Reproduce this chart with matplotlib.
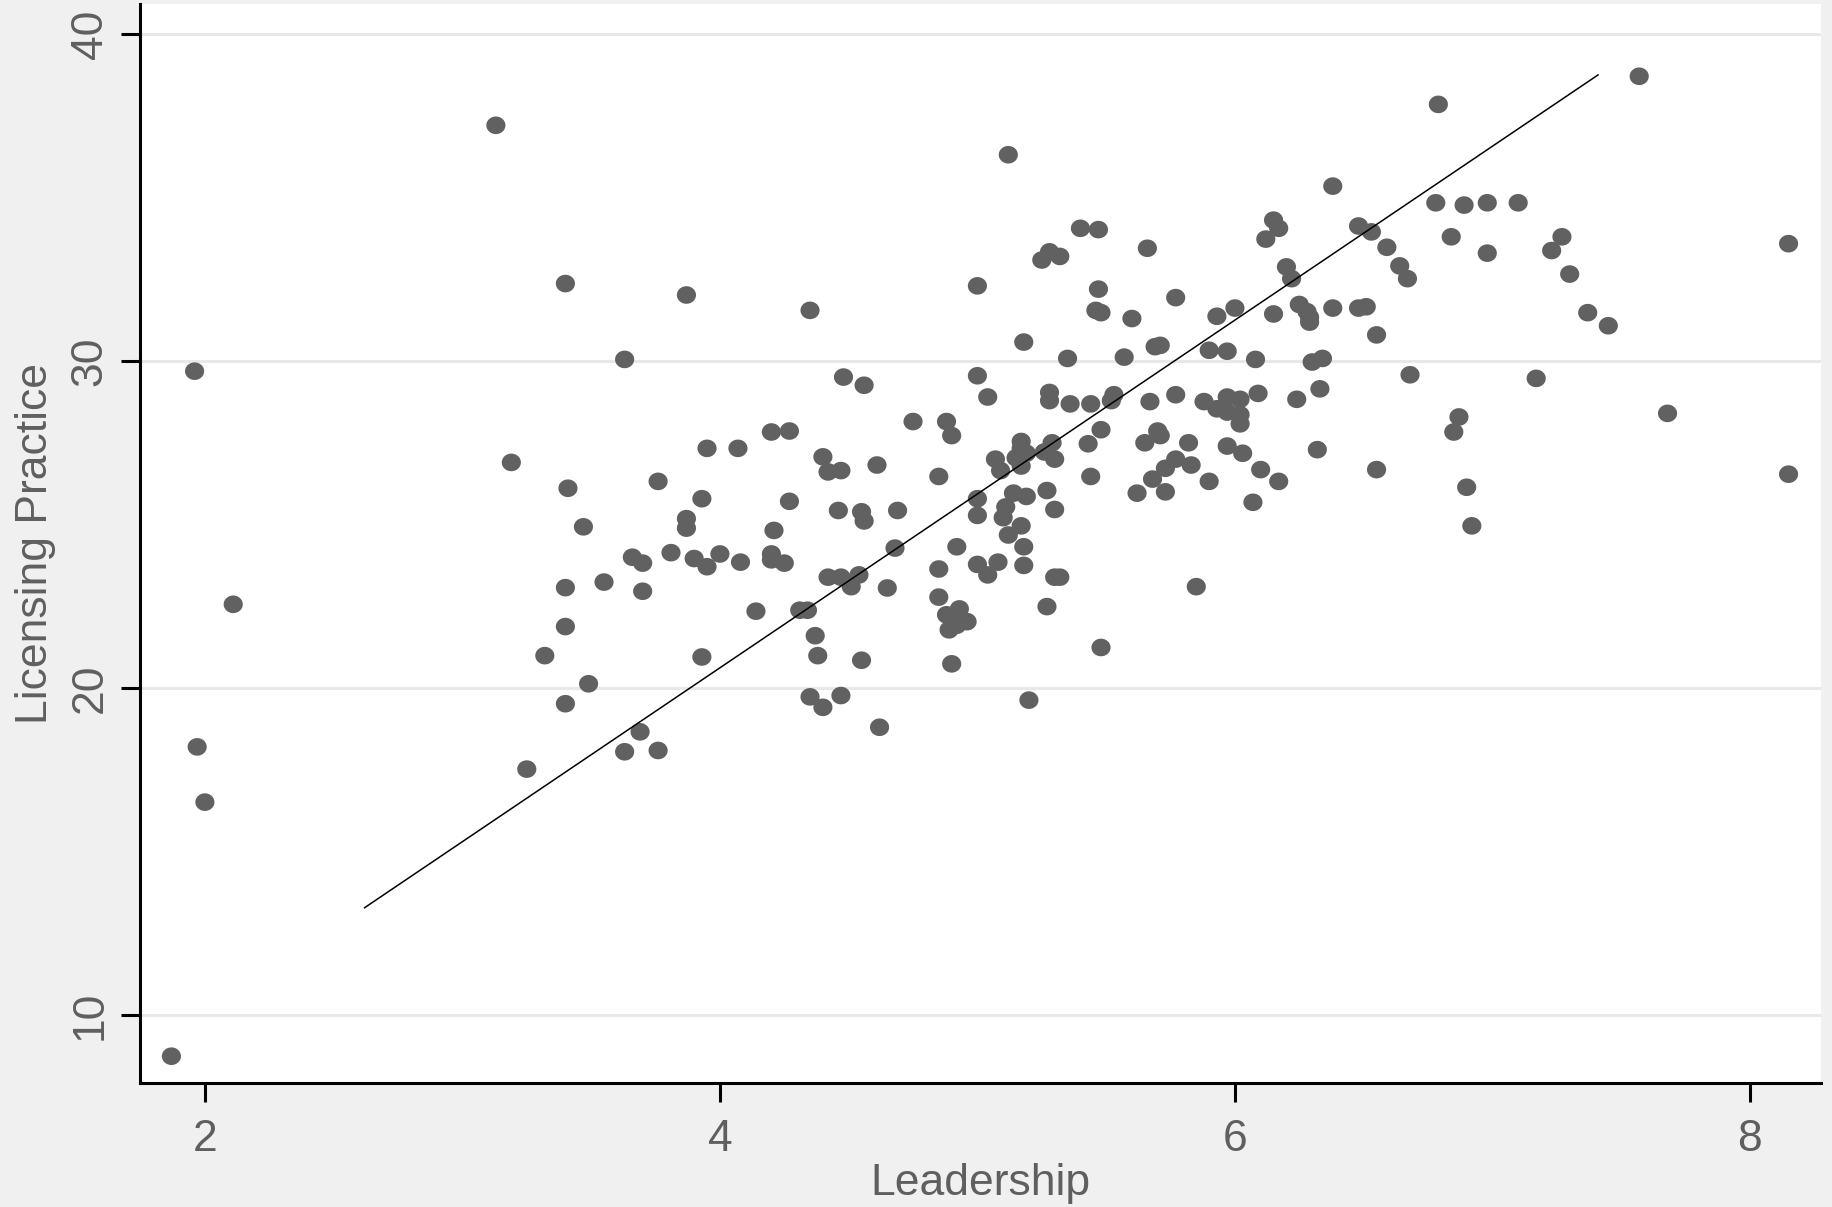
import matplotlib
matplotlib.use("Agg")
import matplotlib.pyplot as plt
import numpy as np

# Leadership score (x) and Licensing Practice score (y)
leadership = [
    1.87, 1.96, 1.97, 2.00, 2.11, 3.13, 3.19, 3.25, 3.32, 3.40,
    3.40, 3.40, 3.40, 3.41, 3.47, 3.49, 3.55, 3.63, 3.63, 3.66,
    3.69, 3.70, 3.70, 3.76, 3.76, 3.81, 3.87, 3.87, 3.87, 3.90,
    3.93, 3.93, 3.95, 3.95, 4.00, 4.07, 4.08, 4.14, 4.20, 4.20,
    4.20, 4.21, 4.25, 4.27, 4.27, 4.31, 4.34, 4.35, 4.35, 4.37,
    4.38, 4.40, 4.40, 4.42, 4.42, 4.46, 4.47, 4.47, 4.47, 4.48,
    4.51, 4.54, 4.55, 4.55, 4.56, 4.56, 4.61, 4.62, 4.65, 4.68,
    4.69, 4.75, 4.85, 4.85, 4.85, 4.88, 4.88, 4.89, 4.90, 4.90,
    4.92, 4.92, 4.93, 4.96, 5.00, 5.00, 5.00, 5.00, 5.00, 5.04,
    5.04, 5.07, 5.08, 5.09, 5.10, 5.11, 5.12, 5.12, 5.14, 5.15,
    5.17, 5.17, 5.17, 5.17, 5.18, 5.18, 5.18, 5.19, 5.20, 5.25,
    5.27, 5.27, 5.28, 5.28, 5.28, 5.29, 5.30, 5.30, 5.30, 5.32,
    5.32, 5.35, 5.36, 5.40, 5.43, 5.44, 5.44, 5.46, 5.47, 5.47,
    5.48, 5.48, 5.48, 5.52, 5.53, 5.57, 5.60, 5.62, 5.65, 5.66,
    5.67, 5.68, 5.69, 5.70, 5.71, 5.71, 5.73, 5.73, 5.77, 5.77,
    5.77, 5.82, 5.83, 5.85, 5.88, 5.90, 5.90, 5.93, 5.93, 5.97,
    5.97, 5.97, 5.97, 6.00, 6.02, 6.02, 6.02, 6.03, 6.07, 6.08,
    6.09, 6.10, 6.12, 6.15, 6.15, 6.17, 6.17, 6.20, 6.22, 6.24,
    6.25, 6.28, 6.29, 6.30, 6.32, 6.33, 6.34, 6.38, 6.38, 6.48,
    6.48, 6.51, 6.53, 6.55, 6.55, 6.59, 6.64, 6.67, 6.68, 6.78,
    6.79, 6.84, 6.85, 6.87, 6.89, 6.90, 6.92, 6.98, 6.98, 7.10,
    7.17, 7.23, 7.27, 7.30, 7.37, 7.45, 7.57, 7.68, 8.15, 8.15,
    5.19, 5.26, 6.29,
]
licensing = [
    8.74, 29.69, 18.20, 16.51, 22.56, 37.21, 26.90, 17.52, 20.99, 32.37,
    23.07, 21.88, 19.52, 26.11, 24.93, 20.13, 23.24, 30.05, 18.05, 24.00,
    18.66, 23.82, 22.96, 18.09, 26.32, 24.14, 32.02, 25.18, 24.89, 23.96,
    25.79, 20.95, 27.33, 23.71, 24.10, 27.33, 23.85, 22.35, 27.83, 24.10,
    23.92, 24.82, 23.82, 25.71, 27.86, 22.38, 22.38, 31.55, 19.73, 21.60,
    20.99, 19.41, 27.07, 26.61, 23.39, 25.43, 26.65, 23.39, 19.77, 29.51,
    23.10, 23.46, 20.85, 25.39, 25.11, 29.26, 26.82, 18.80, 23.06, 24.28,
    25.43, 28.15, 26.47, 23.64, 22.78, 22.24, 28.15, 21.78, 27.72, 20.74,
    21.92, 24.32, 22.42, 22.03, 32.30, 29.55, 25.79, 25.28, 23.78, 28.90,
    23.46, 27.00, 23.85, 26.65, 25.21, 25.54, 36.31, 24.68, 25.96, 27.04,
    24.96, 26.79, 27.54, 27.33, 24.32, 23.75, 30.58, 25.86, 19.63, 33.09,
    26.04, 22.49, 33.34, 29.04, 28.79, 27.50, 25.46, 27.00, 23.39, 33.20,
    23.39, 30.08, 28.69, 34.06, 27.47, 28.69, 26.47, 31.55, 34.02, 32.20,
    31.48, 27.90, 21.24, 28.79, 28.97, 30.12, 31.30, 25.96, 27.50, 33.45,
    28.76, 26.39, 30.44, 27.86, 27.72, 30.48, 26.72, 26.00, 31.94, 28.97,
    27.00, 27.50, 26.82, 23.10, 28.76, 30.33, 26.32, 31.37, 28.54, 30.30,
    27.40, 28.90, 28.44, 31.62, 28.83, 28.36, 28.08, 27.18, 25.68, 30.05,
    29.01, 26.68, 33.73, 31.44, 34.31, 34.06, 26.32, 32.88, 32.52, 28.83,
    31.73, 31.51, 31.19, 29.97, 27.29, 29.15, 30.08, 35.35, 31.62, 34.13,
    31.62, 31.66, 33.95, 30.80, 26.68, 33.48, 32.91, 32.52, 29.58, 34.84,
    37.85, 33.80, 27.83, 28.29, 34.77, 26.14, 24.96, 33.30, 34.84, 34.84,
    29.47, 33.38, 33.80, 32.66, 31.48, 31.08, 38.71, 28.40, 33.59, 26.54,
    27.18, 27.22, 31.34,
]

# fitted line end points
fit_x = [2.62, 7.41]
fit_y = [13.28, 38.75]

x_ticks = [2, 4, 6, 8]
y_ticks = [10, 20, 30, 40]

grey_text = "#5f5f5f"
dot_color = "#616161"

plt.rcParams["font.family"] = ["Liberation Sans", "DejaVu Sans"]

# Stata draws the dots a touch wider than tall
theta = np.linspace(0, 2 * np.pi, 60)
dot_marker = np.column_stack([np.cos(theta), 0.92 * np.sin(theta)])

fig = plt.figure(figsize=(18.33, 12.07), dpi=100, facecolor="#f0f0f0")
ax = fig.add_axes([140 / 1833, 1 - 1083 / 1207, 1681 / 1833, 1079 / 1207])
ax.set_facecolor("white")

ax.scatter(leadership, licensing, s=190, marker=dot_marker, color=dot_color,
           edgecolors="none", zorder=3)
ax.plot(fit_x, fit_y, color="black", lw=1.1, zorder=4)

ax.set_xlim(1.748, 8.276)
ax.set_ylim(7.92, 40.92)
ax.set_xticks(x_ticks)
ax.set_yticks(y_ticks)

for yt in y_ticks:
    ax.axhline(yt, color="#e8e8e8", lw=2.2, zorder=1)

for side in ("top", "right"):
    ax.spines[side].set_visible(False)
for side in ("left", "bottom"):
    ax.spines[side].set_linewidth(2.2)
    ax.spines[side].set_color("black")

ax.tick_params(axis="both", length=14, width=2.2, color="black",
               labelsize=32, labelcolor=grey_text)
ax.tick_params(axis="x", pad=12)
ax.tick_params(axis="y", pad=7)
for lab in ax.get_yticklabels():
    lab.set_rotation(90)
    lab.set_va("center")
    lab.set_ha("right")

ax.set_xlabel("Leadership", fontsize=32, color=grey_text, va="center")
ax.set_ylabel("Licensing Practice", fontsize=32, color=grey_text, va="center")
ax.xaxis.set_label_coords(0.5, -0.093)
ax.yaxis.set_label_coords(-0.062, 0.5)

fig.savefig("out.png", dpi=100, facecolor=fig.get_facecolor())
